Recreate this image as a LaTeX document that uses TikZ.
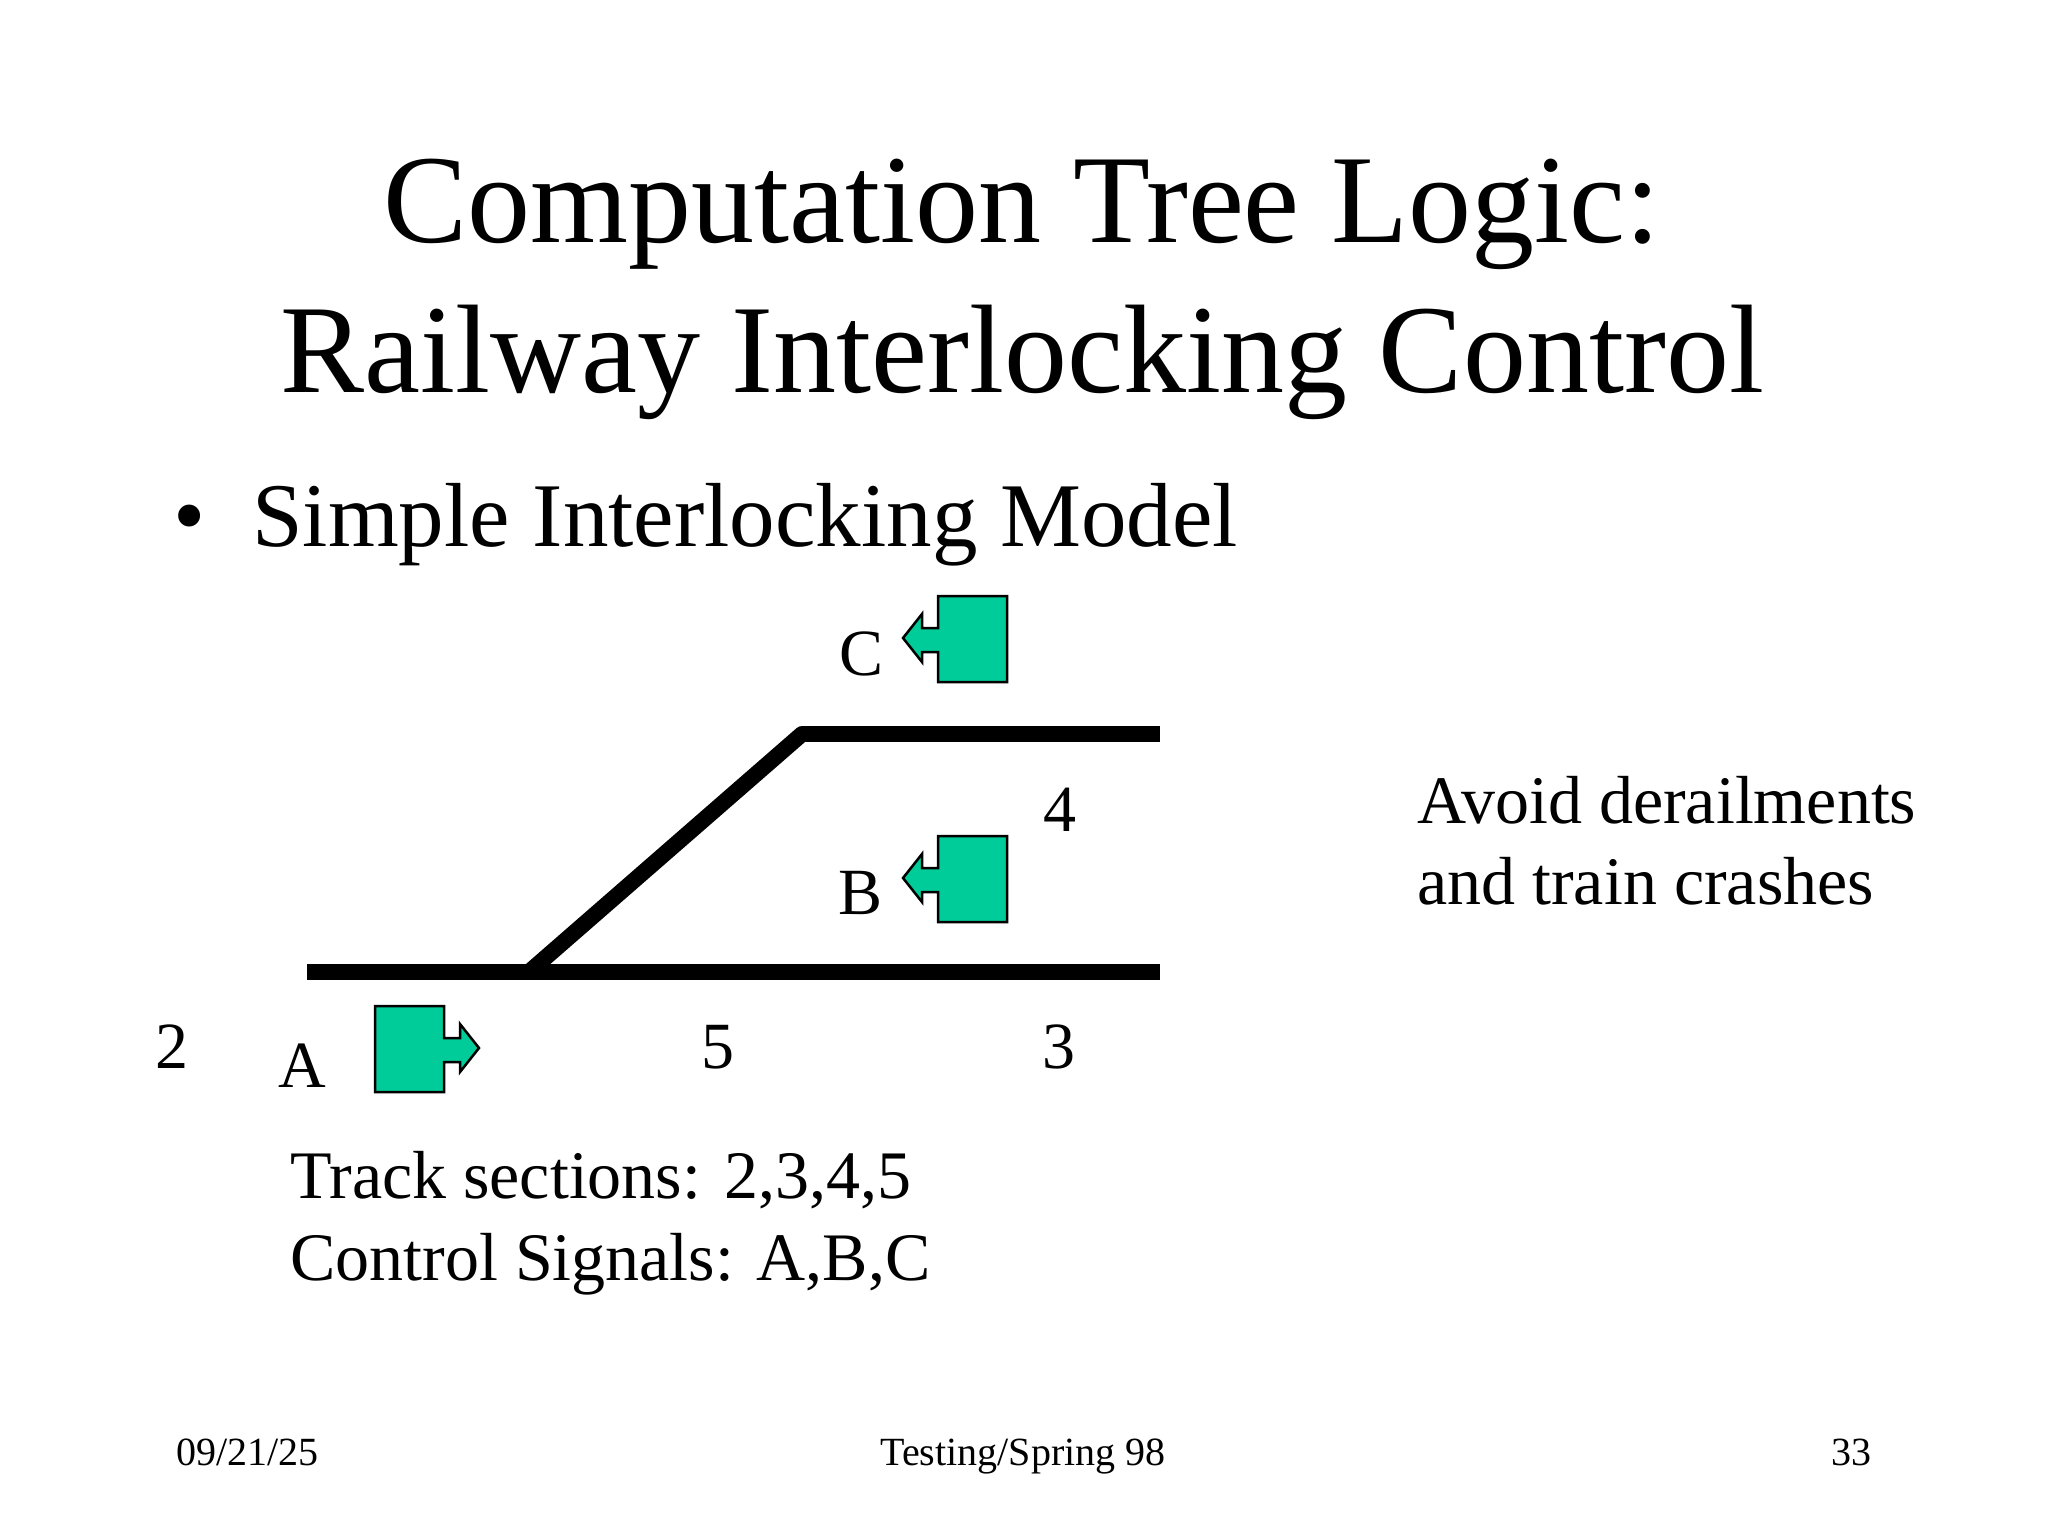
\documentclass[tikz,border=0pt]{standalone}
\usepackage{fontspec}
\setmainfont{Liberation Serif}
\begin{document}
\begin{tikzpicture}[x=1pt,y=-1pt,
  track/.style={line width=16pt},
  sig/.style={fill={rgb,255:red,0;green,204;blue,153},draw=black,line width=2.5pt,line join=miter},
  lbl/.style={font=\fontsize{66}{70}\selectfont,anchor=base,inner sep=0},
  txt/.style={font=\fontsize{68}{82}\selectfont,anchor=base west,inner sep=0},
  foot/.style={font=\fontsize{40}{44}\selectfont,anchor=base,inner sep=0},
  pics/sigleft/.style={code={
    \draw[sig] (0,0) -- (69,0) -- (69,86) -- (0,86) -- (0,56) -- (-16,56) -- (-16,66) -- (-35,42) -- (-16,18) -- (-16,32) -- (0,32) -- cycle;}},
  pics/sigright/.style={code={
    \draw[sig] (0,0) -- (-69,0) -- (-69,86) -- (0,86) -- (0,56) -- (16,56) -- (16,66) -- (35,42) -- (16,18) -- (16,32) -- (0,32) -- cycle;}}
]
\useasboundingbox (0,0) rectangle (2048,1536);
\node[font=\fontsize{126}{150}\selectfont,anchor=base] (t1) at (1022,242) {Computation Tree Logic:};
\node[font=\fontsize{126}{150}\selectfont,anchor=base] (t2) at (1022,392) {Railway Interlocking Control};
\node[font=\fontsize{92}{110}\selectfont,anchor=base] (bul) at (190,546) {•};
\node[font=\fontsize{91}{110}\selectfont,anchor=base west,inner sep=0] (sub) at (252,546) {Simple Interlocking Model};
% tracks
\coordinate (bl) at (307,972); \coordinate (br) at (1160,972);
\coordinate (j) at (529,972); \coordinate (tj) at (802,734); \coordinate (tr) at (1160,734);
\draw[track] (bl) -- (br);
\draw[track] (tj) -- (tr);
\draw[track,line cap=round] (j) -- (tj);
% signals
\pic at (938,596) {sigleft};
\pic at (938,836) {sigleft};
\pic at (444,1006) {sigright};
% labels
\node[lbl] (lC) at (862,675) {C};
\node[lbl] (lB) at (861,914) {B};
\node[lbl] (l4) at (1060,831) {4};
\node[lbl] (l2) at (172,1068) {2};
\node[lbl] (lA) at (302,1087) {A};
\node[lbl] (l5) at (718,1068) {5};
\node[lbl] (l3) at (1059,1068) {3};
\node[txt] (av1) at (1417,823) {Avoid derailments};
\node[txt] (av2) at (1417,904) {and train crashes};
\node[txt] (ts) at (290,1198) {Track sections: 2,3,4,5};
\node[txt] (cs) at (290,1280) {Control Signals: A,B,C};
\node[foot,anchor=base west] (d) at (176,1465) {09/21/25};
\node[foot] (m) at (1023,1465) {Testing/Spring 98};
\node[foot,anchor=base east] (p) at (1872,1465) {33};
\end{tikzpicture}
\end{document}
